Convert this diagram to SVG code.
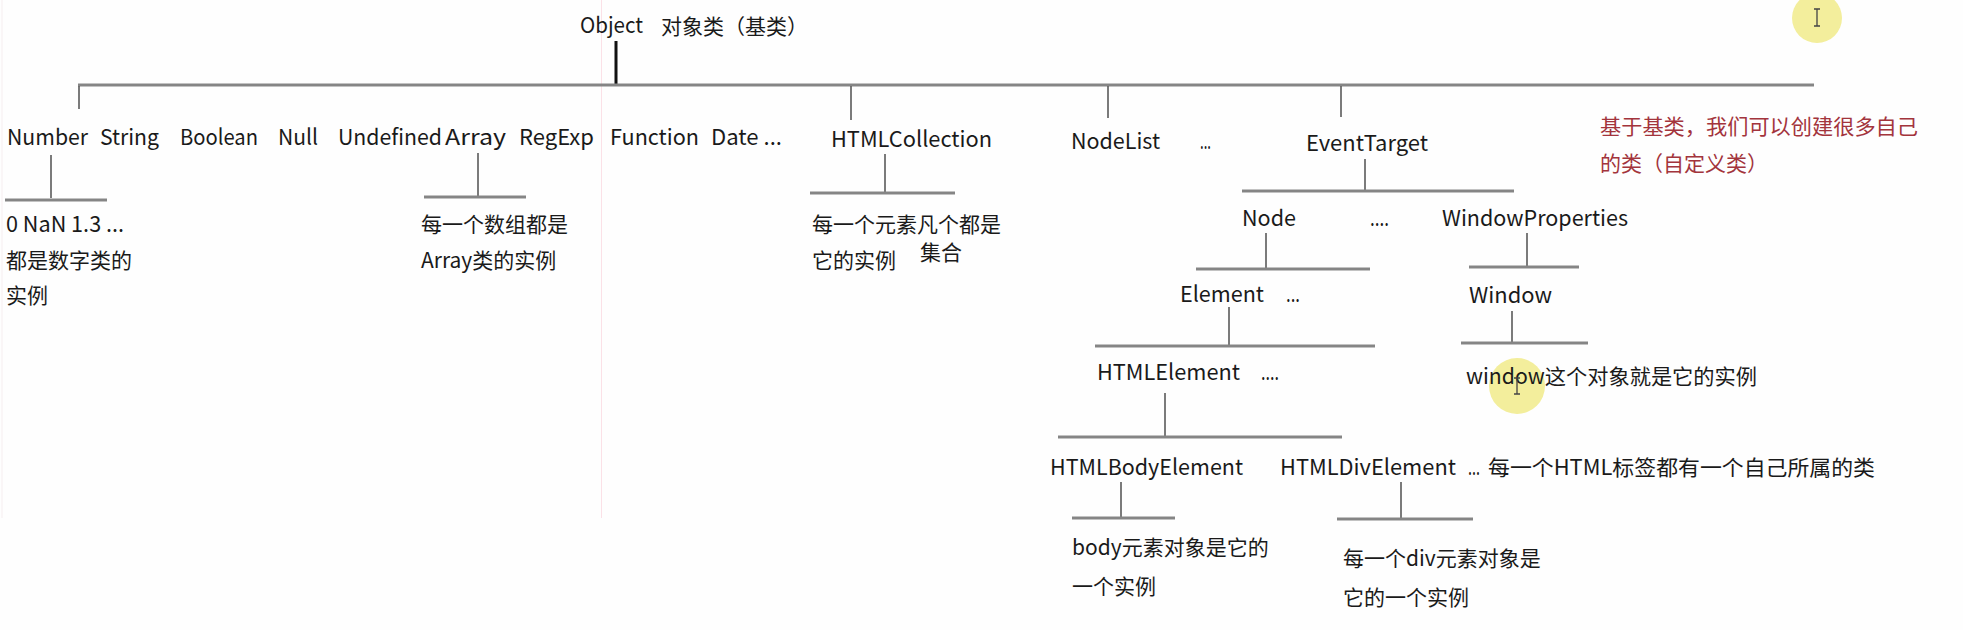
<svg xmlns="http://www.w3.org/2000/svg" width="1963" height="630" viewBox="0 0 1963 630">
<style>
text{font-family:"Noto Sans CJK SC","Liberation Sans",sans-serif;font-size:21px;fill:#1a1a1a}
text.l{font-size:22px}
.red{fill:#a3343c}
.h{stroke:#858585;stroke-width:3;fill:none}
.v{stroke:#5a5a5a;stroke-width:1.6;fill:none}
.stem{stroke:#111;stroke-width:3}
.hl{fill:#f3ee9c}
.cur{stroke:#444;stroke-width:1.3;fill:none}
</style>
<rect width="1963" height="630" fill="#fefefe"/>
<line x1="601.5" y1="0" x2="601.5" y2="518" stroke="#fbe1e7" stroke-width="1"/>
<line x1="2" y1="0" x2="2" y2="518" stroke="#f6eef0" stroke-width="1"/>
<circle class="hl" cx="1817" cy="18" r="25"/>
<circle class="hl" cx="1517" cy="386" r="28"/>

<g id="connectors">
<line class="stem" x1="616" y1="41" x2="616" y2="84"/>
<line class="h" x1="78" y1="85" x2="1814" y2="85"/>
<line class="v" x1="79" y1="86" x2="79" y2="109"/>
<line class="v" x1="851" y1="86" x2="851" y2="120"/>
<line class="v" x1="1108" y1="86" x2="1108" y2="118"/>
<line class="v" x1="1341" y1="86" x2="1341" y2="117"/>
<line class="v" x1="51" y1="155" x2="51" y2="198"/>
<line class="h" x1="5" y1="200" x2="107" y2="200"/>
<line class="v" x1="478" y1="153" x2="478" y2="196"/>
<line class="h" x1="424" y1="197" x2="526" y2="197"/>
<line class="v" x1="885" y1="154" x2="885" y2="192"/>
<line class="h" x1="810" y1="193" x2="955" y2="193"/>
<line class="v" x1="1365" y1="159" x2="1365" y2="190"/>
<line class="h" x1="1242" y1="191" x2="1514" y2="191"/>
<line class="v" x1="1266" y1="233" x2="1266" y2="268"/>
<line class="h" x1="1196" y1="269" x2="1370" y2="269"/>
<line class="v" x1="1527" y1="233" x2="1527" y2="266"/>
<line class="h" x1="1469" y1="267" x2="1579" y2="267"/>
<line class="v" x1="1229" y1="307" x2="1229" y2="345"/>
<line class="h" x1="1095" y1="346" x2="1375" y2="346"/>
<line class="v" x1="1512" y1="311" x2="1512" y2="342"/>
<line class="h" x1="1461" y1="343" x2="1588" y2="343"/>
<line class="v" x1="1165" y1="393" x2="1165" y2="436"/>
<line class="h" x1="1058" y1="437" x2="1342" y2="437"/>
<line class="v" x1="1121" y1="482" x2="1121" y2="517"/>
<line class="h" x1="1072" y1="518" x2="1175" y2="518"/>
<line class="v" x1="1401" y1="482" x2="1401" y2="518"/>
<line class="h" x1="1337" y1="519" x2="1473" y2="519"/>
</g>

<g id="object"><text class="l" x="580" y="33" textLength="63" lengthAdjust="spacingAndGlyphs">Object</text><text x="661" y="34">对象类（基类）</text></g>
<g id="number"><text class="l" x="7" y="145" textLength="81" lengthAdjust="spacingAndGlyphs">Number</text></g>
<g id="string"><text class="l" x="100" y="145" textLength="59" lengthAdjust="spacingAndGlyphs">String</text></g>
<g id="boolean"><text class="l" x="180" y="145" textLength="78" lengthAdjust="spacingAndGlyphs">Boolean</text></g>
<g id="null"><text class="l" x="278" y="145" textLength="40" lengthAdjust="spacingAndGlyphs">Null</text></g>
<g id="undefined"><text class="l" x="338" y="145" textLength="104" lengthAdjust="spacingAndGlyphs">Undefined</text></g>
<g id="array"><text class="l" x="445" y="145" textLength="61" lengthAdjust="spacingAndGlyphs">Array</text></g>
<g id="regexp"><text class="l" x="519" y="145" textLength="75" lengthAdjust="spacingAndGlyphs">RegExp</text></g>
<g id="function"><text class="l" x="610" y="145" textLength="89" lengthAdjust="spacingAndGlyphs">Function</text></g>
<g id="date"><text class="l" x="711" y="145" textLength="71" lengthAdjust="spacingAndGlyphs">Date ...</text></g>
<g id="htmlcollection"><text class="l" x="831" y="147" textLength="161" lengthAdjust="spacingAndGlyphs">HTMLCollection</text></g>
<g id="nodelist"><text class="l" x="1071" y="149" textLength="89" lengthAdjust="spacingAndGlyphs">NodeList</text><text class="l" x="1200" y="149" textLength="11" lengthAdjust="spacingAndGlyphs">...</text></g>
<g id="eventtarget"><text class="l" x="1306" y="151" textLength="122" lengthAdjust="spacingAndGlyphs">EventTarget</text></g>

<g id="number-note"><text class="l" x="6" y="232" textLength="118" lengthAdjust="spacingAndGlyphs">0 NaN 1.3 ...</text><text x="6" y="268">都是数字类的</text><text x="6" y="303">实例</text></g>
<g id="array-note"><text x="421" y="232">每一个数组都是</text><text x="421" y="268">Array类的实例</text></g>
<g id="collection-note"><text x="812" y="232">每一个元素凡个都是</text><text x="812" y="268">它的实例</text><text x="920" y="260">集合</text></g>

<g id="node"><text class="l" x="1242" y="226" textLength="54" lengthAdjust="spacingAndGlyphs">Node</text><text class="l" x="1370" y="226" textLength="19" lengthAdjust="spacingAndGlyphs">....</text></g>
<g id="windowproperties"><text class="l" x="1442" y="226" textLength="186" lengthAdjust="spacingAndGlyphs">WindowProperties</text></g>
<g id="element"><text class="l" x="1180" y="302" textLength="84" lengthAdjust="spacingAndGlyphs">Element</text><text class="l" x="1286" y="302" textLength="14" lengthAdjust="spacingAndGlyphs">...</text></g>
<g id="window"><text class="l" x="1469" y="303" textLength="83" lengthAdjust="spacingAndGlyphs">Window</text></g>
<g id="htmlelement"><text class="l" x="1097" y="380" textLength="143" lengthAdjust="spacingAndGlyphs">HTMLElement</text><text class="l" x="1261" y="380" textLength="18" lengthAdjust="spacingAndGlyphs">....</text></g>
<g id="window-note"><text x="1466" y="384" textLength="291" lengthAdjust="spacingAndGlyphs">window这个对象就是它的实例</text></g>
<g id="htmlbodyelement"><text class="l" x="1050" y="475" textLength="193" lengthAdjust="spacingAndGlyphs">HTMLBodyElement</text></g>
<g id="htmldivelement"><text class="l" x="1280" y="475" textLength="176" lengthAdjust="spacingAndGlyphs">HTMLDivElement</text><text class="l" x="1468" y="475" textLength="12" lengthAdjust="spacingAndGlyphs">...</text><text x="1488" y="475" textLength="387" lengthAdjust="spacingAndGlyphs">每一个HTML标签都有一个自己所属的类</text></g>
<g id="body-note"><text x="1072" y="555">body元素对象是它的</text><text x="1072" y="594">一个实例</text></g>
<g id="div-note"><text x="1343" y="566">每一个div元素对象是</text><text x="1343" y="605">它的一个实例</text></g>
<g id="custom-note"><text class="red" x="1600" y="134" textLength="318" lengthAdjust="spacingAndGlyphs">基于基类，我们可以创建很多自己</text><text class="red" x="1600" y="171">的类（自定义类）</text></g>

<path class="cur" d="M1814 9h6M1817 9v17M1814 26h6"/>
<path class="cur" d="M1514 378h6M1517 378v16M1514 394h6"/>
</svg>
